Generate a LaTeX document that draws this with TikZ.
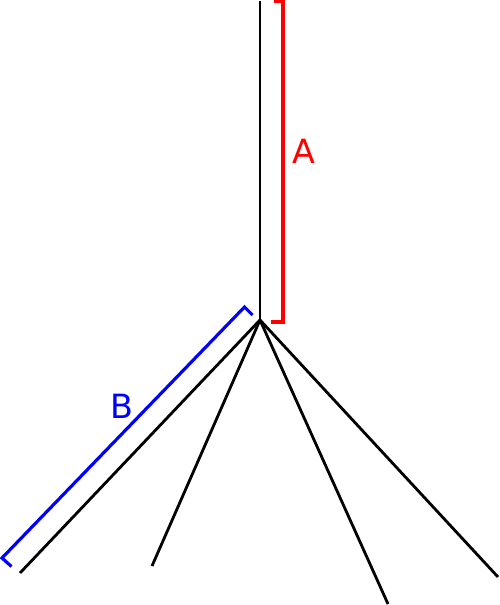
\documentclass[tikz,border=0pt]{standalone}
\usepackage{fontspec}
\setmainfont{DejaVu Sans}
\usepackage{tikz}

\begin{document}
\begin{tikzpicture}[x=0.02cm, y=-0.02cm, line width=1.6pt]
    \useasboundingbox (0,0) rectangle (500,605);

    % draw trunk and branches
    \coordinate (top) at (260,1);
    \coordinate (hub) at (260,320);
    \coordinate (leafa) at (20,573);
    \coordinate (leafb) at (152,566);
    \coordinate (leafc) at (388,604);
    \coordinate (leafd) at (498,577);
    \draw (top) -- (hub);
    \draw (hub) -- (leafa);
    \draw (hub) -- (leafb);
    \draw (hub) -- (leafc);
    \draw (hub) -- (leafd);

    % draw red bracket
    \draw[color=red, line width=1.8pt] (274,1.5) -- (283,1.5) -- (283,322) -- (271,322);
    \node[color=red, font=\fontsize{19}{20}\selectfont] (labela) at (304,151) {A};

    % draw blue bracket
    \draw[color=blue, line width=1.8pt] (252.5,315) -- (244.5,307) -- (2,558) -- (11.5,566.5);
    \node[color=blue, font=\fontsize{19}{20}\selectfont] (labelb) at (121.5,406) {B};

\end{tikzpicture}
\end{document}
